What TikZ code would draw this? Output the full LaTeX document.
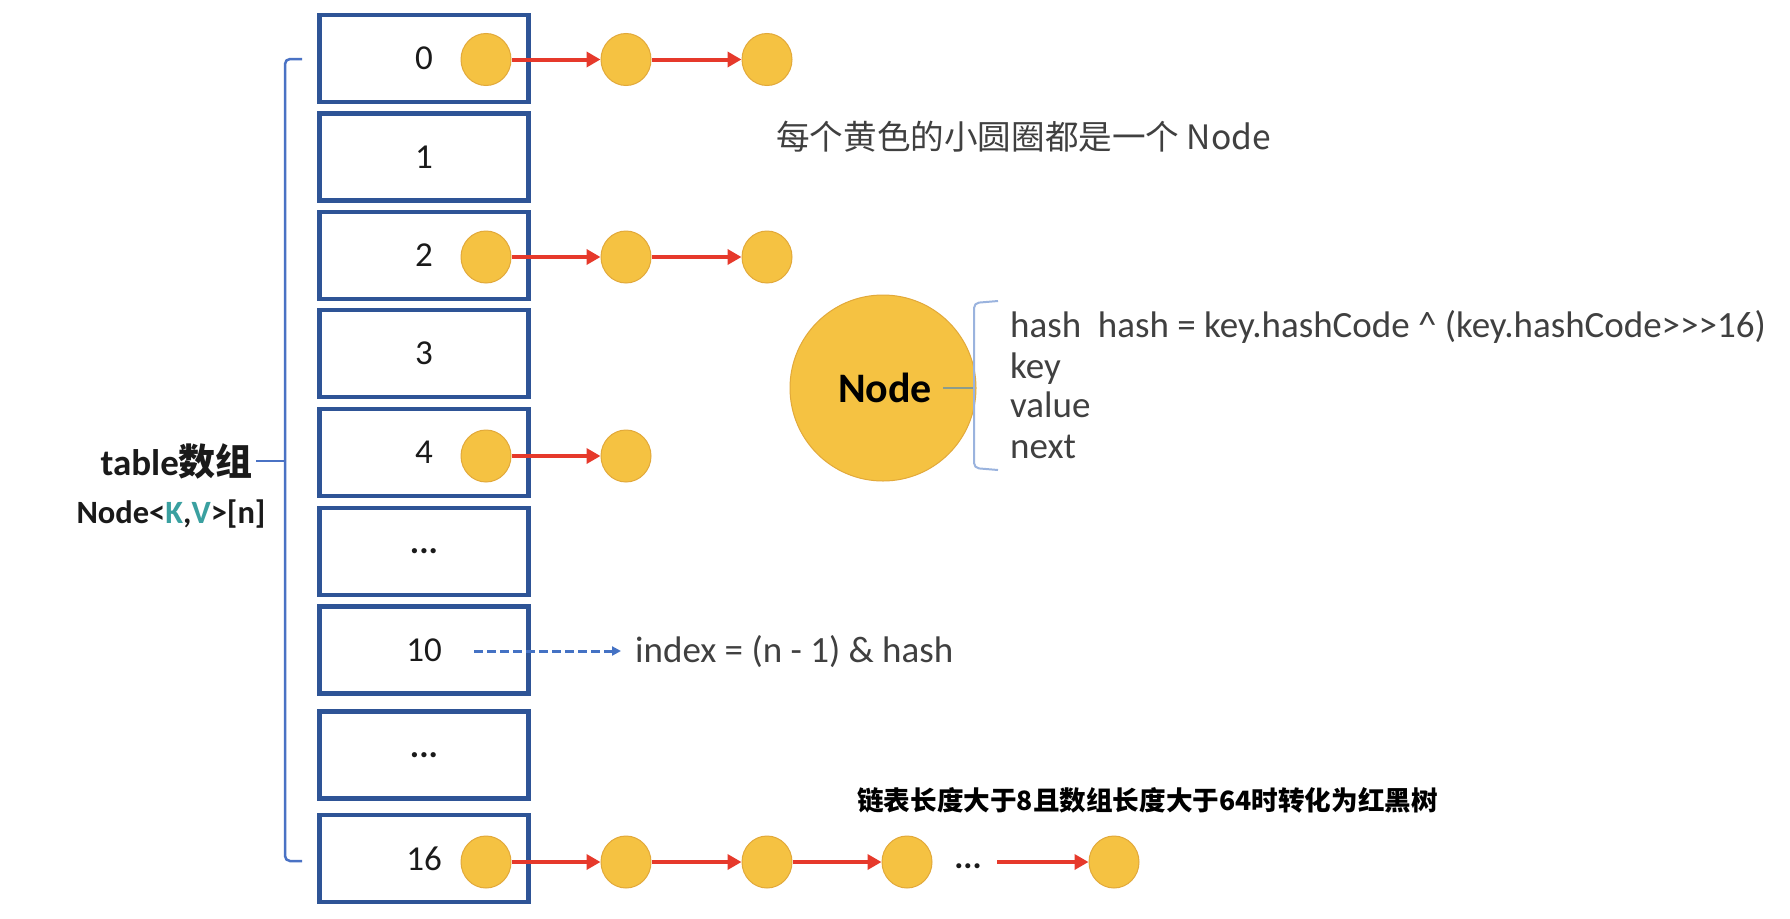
\documentclass[tikz,border=0pt]{standalone}
\usepackage{fontspec}
\setmainfont{Carlito}
\newfontfamily\cjk{Noto Sans CJK SC}
\usetikzlibrary{shapes.geometric,arrows.meta}
\definecolor{boxblue}{HTML}{2E5496}
\definecolor{braceblue}{HTML}{4A72C4}
\definecolor{lightbrace}{HTML}{9AB3DE}
\definecolor{nodeyellow}{HTML}{F5C242}
\definecolor{nodeedge}{HTML}{E2A93A}
\definecolor{arrowred}{HTML}{E6392B}
\definecolor{dashblue}{HTML}{4472C4}
\definecolor{graytext}{HTML}{404040}
\definecolor{numblack}{HTML}{1A1A1A}
\definecolor{tealkv}{HTML}{3AA0A0}
\definecolor{stemgray}{HTML}{8C9C8C}
\begin{document}
\begin{tikzpicture}[x=1pt,y=-1pt,
  cell/.style={draw=boxblue,line width=4.7pt,minimum width=209pt,minimum height=87pt,inner sep=0pt,font=\fontsize{35}{40}\selectfont,text=numblack},
  dot/.style={ellipse,fill=nodeyellow,draw=nodeedge,line width=1pt,minimum width=50pt,minimum height=52pt,inner sep=0pt},
  link/.style={draw=arrowred,line width=4pt,-{Triangle[length=14pt,width=15pt]}},
  gtext/.style={text=graytext,font=\fontsize{37}{42}\selectfont,inner sep=0pt,anchor=west,text height=0.75em,text depth=0.25em},
  bracepen/.style={draw=braceblue,line width=2.5pt},
]
\fill[white] (0,0) rectangle (1790,918);
\useasboundingbox (0,0) rectangle (1790,918);

% table cells
\node[cell] (b0) at (424,58.5) {0};
\node[cell] (b1) at (424,157) {1};
\node[cell] (b2) at (424,255.5) {2};
\node[cell] (b3) at (424,353.5) {3};
\node[cell] (b4) at (424,452.5) {4};
\node[cell] (b5) at (424,551.5) {\textbf{...}};
\node[cell] (b6) at (424,650) {10};
\node[cell] (b7) at (424,755) {\textbf{...}};
\node[cell] (b8) at (424,858.5) {16};

% row 0
\node[dot] (r0a) at (486,59.5) {};
\node[dot] (r0b) at (626,59.5) {};
\node[dot] (r0c) at (767,59.5) {};
\draw[link] (r0a) -- (r0b);
\draw[link] (r0b) -- (r0c);
% row 2
\node[dot] (r2a) at (486,257) {};
\node[dot] (r2b) at (626,257) {};
\node[dot] (r2c) at (767,257) {};
\draw[link] (r2a) -- (r2b);
\draw[link] (r2b) -- (r2c);
% row 4
\node[dot] (r4a) at (486,456) {};
\node[dot] (r4b) at (626,456) {};
\draw[link] (r4a) -- (r4b);
% row 16
\node[dot] (r8a) at (486,862) {};
\node[dot] (r8b) at (626,862) {};
\node[dot] (r8c) at (767,862) {};
\node[dot] (r8d) at (907,862) {};
\node[text=numblack,font=\fontsize{34}{40}\selectfont\bfseries,inner sep=0pt] (r8dots) at (968,866) {...};
\coordinate (r8s) at (997,862);
\node[dot] (r8e) at (1114,862) {};
\draw[link] (r8a) -- (r8b);
\draw[link] (r8b) -- (r8c);
\draw[link] (r8c) -- (r8d);
\draw[link] (r8s) -- (r8e);

% left brace
\coordinate (bt) at (302,59);
\coordinate (bb) at (302,861);
\coordinate (bm) at (285,461);
\draw[bracepen,rounded corners=5pt] (bt) -- (285,59) -- (285,861) -- (bb);
\node[anchor=east,inner sep=0pt,text=numblack,font=\fontsize{37}{42}\selectfont\bfseries] (tbl) at (253,461) {table{\cjk 数组}};
\draw[bracepen] ([xshift=3pt]tbl.east) -- (bm);
\node[inner sep=0pt,text=numblack,font=\fontsize{32.5}{36}\selectfont\bfseries] (typ) at (171,514) {Node<\textcolor{tealkv}{K},\textcolor{tealkv}{V}>[n]};

% caption
\node[anchor=west,inner sep=0pt,text=graytext,font=\cjk\fontsize{33.6}{38}\selectfont] (cap) at (776,137) {每个黄色的小圆圈都是一个 Node};

% big node
\node[circle,fill=nodeyellow,draw=nodeedge,line width=1pt,minimum size=186pt,inner sep=0pt] (big) at (883,388) {};
\node[inner sep=0pt,text=black,font=\fontsize{42}{46}\selectfont\bfseries] (bigt) at (885,388) {Node};
\coordinate (stem) at (943,388);
\coordinate (rb) at (974,388);
\draw[stemgray,line width=2pt] (stem) -- (rb);
\draw[lightbrace,line width=2pt,rounded corners=5pt] (998,301) -- (974,303) -- (974,468) -- (998,470);

\node[gtext] (f1) at (1010,335) {hash\ \ hash = key.hashCode \^{} (key.hashCode>{}>{}>16)};
\node[gtext] (f2) at (1010,375.5) {key};
\node[gtext] (f3) at (1010,415) {value};
\node[gtext] (f4) at (1010,455.5) {next};

% index
\coordinate (ds) at (474,651);
\node[gtext] (idx) at (635,660) {index = (n - 1) \& hash};
\draw[dashblue,line width=3pt,dash pattern=on 9pt off 4pt,-{Triangle[length=9pt,width=9pt]}] (ds) -- ([xshift=-14pt]ds -| idx.west);

% treeify note
\node[anchor=west,inner sep=0pt,text=black,font=\cjk\bfseries\fontsize{26.6}{30}\selectfont] (tree) at (857,800) {链表长度大于8且数组长度大于64时转化为红黑树};
\end{tikzpicture}
\end{document}
